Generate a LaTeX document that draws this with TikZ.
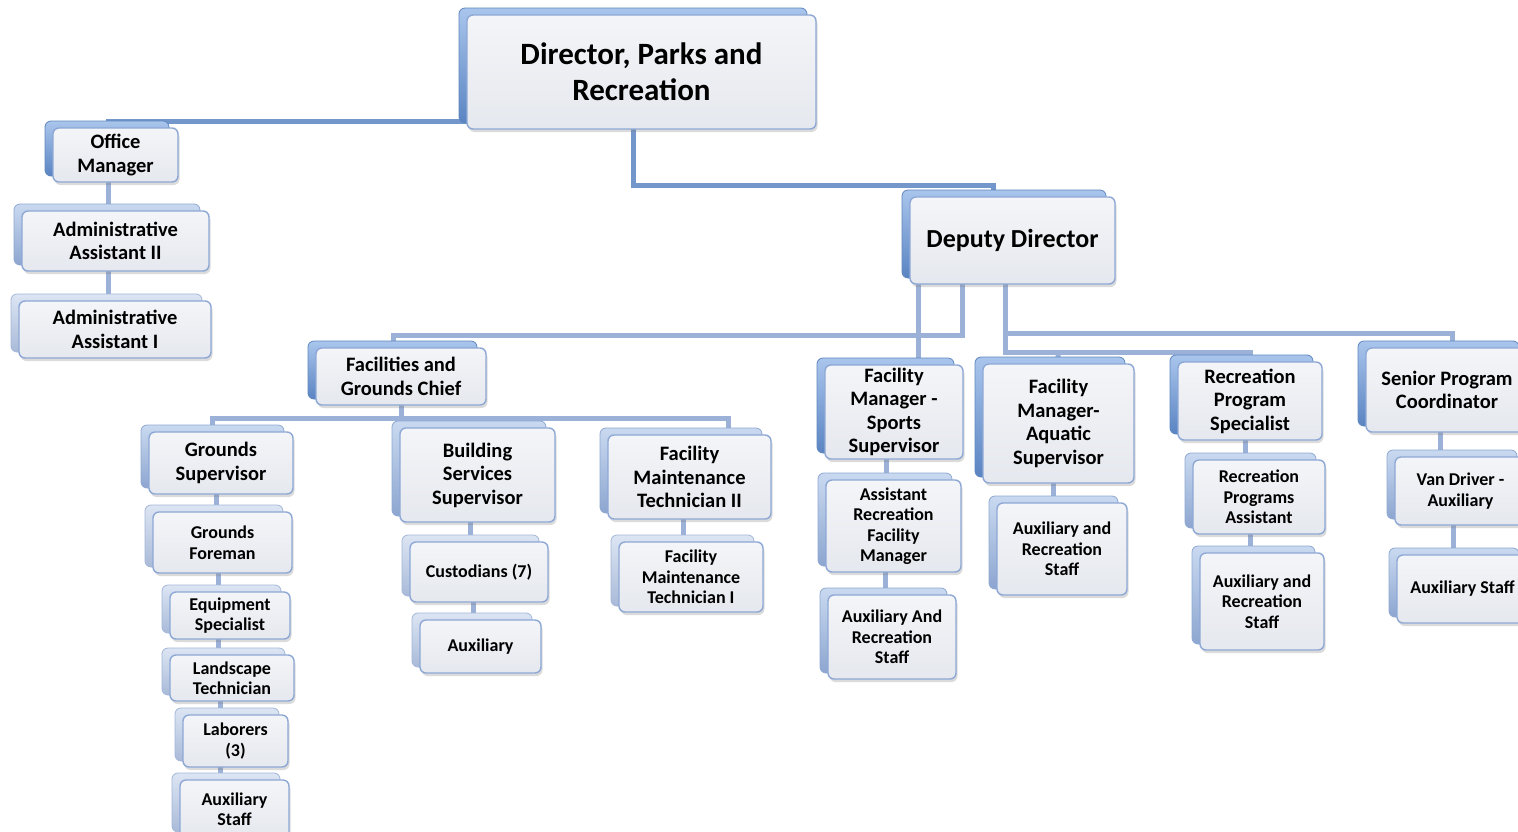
\documentclass[tikz,border=0pt]{standalone}
\usepackage{fontspec}
\setmainfont{Carlito}
\usetikzlibrary{shadows,backgrounds}
\pgfdeclarelayer{canvasbg}
\pgfsetlayers{canvasbg,background,main}
\definecolor{lnDark}{HTML}{7396CB}
\definecolor{lnLight}{HTML}{9BB1D8}
\definecolor{frontBorder}{HTML}{8EA8D6}
\definecolor{frontTop}{HTML}{F4F5F8}
\definecolor{frontBot}{HTML}{E5E8EE}
\definecolor{bdTop}{HTML}{A9C5EC}
\definecolor{bdBot}{HTML}{5A84C2}
\definecolor{bdBorder}{HTML}{5F87C0}
\definecolor{bmTop}{HTML}{C9D9F0}
\definecolor{bmBot}{HTML}{8DA6D0}
\definecolor{bmBorder}{HTML}{8FA8D2}
\definecolor{bpTop}{HTML}{DCE5F3}
\definecolor{bpBot}{HTML}{A9BAD8}
\definecolor{bpBorder}{HTML}{A3B7D9}
\tikzset{
  front/.style={draw=frontBorder, line width=1.4pt, rounded corners=6pt,
    top color=frontTop, bottom color=frontBot, inner sep=0pt, outer sep=0pt,
    align=center, text=black,
    drop shadow={opacity=0.28, shadow xshift=1.5pt, shadow yshift=-3pt}},
  backdeep/.style={draw=bdBorder, line width=0.8pt, rounded corners=6pt, top color=bdTop, bottom color=bdBot},
  backmid/.style={draw=bmBorder, line width=0.8pt, rounded corners=6pt, top color=bmTop, bottom color=bmBot},
  backpale/.style={draw=bpBorder, line width=0.8pt, rounded corners=6pt, top color=bpTop, bottom color=bpBot},
  fA/.style={font=\bfseries\fontsize{31}{36}\selectfont},
  fD/.style={font=\bfseries\fontsize{26}{31}\selectfont},
  fB/.style={font=\bfseries\fontsize{20.5}{23.5}\selectfont},
  fM/.style={font=\bfseries\fontsize{18}{20.5}\selectfont},
  lnD/.style={draw=lnDark, line width=5pt},
  lnL/.style={draw=lnLight, line width=5pt},
}
\newcommand\obox[8]{%
  \path[#1] ({#3-8},{#4-7}) rectangle ({#5-9},{#6-6});
  \node[front,#7,minimum width={(#5-#3)*1pt},minimum height={(#6-#4)*1pt}] (#2) at ({(#3+#5)/2},{(#4+#6)/2}) {#8};
}
\begin{document}
\begin{tikzpicture}[x=1pt,y=-1pt]
\useasboundingbox (0,0) rectangle (1518,831);
\begin{pgfonlayer}{canvasbg}
\fill[white] (0,0) rectangle (1518,831);
\end{pgfonlayer}
% boxes
\obox{backdeep}{dir}{467}{15}{816}{129}{fA}{Director, Parks and\\Recreation}
\obox{backdeep}{om}{53}{128}{178}{182}{fB}{Office\\Manager}
\obox{backmid}{aa2}{22}{211}{209}{271}{fB}{Administrative\\Assistant II}
\obox{backpale}{aa1}{19}{301}{211}{358}{fB}{Administrative\\Assistant I}
\obox{backdeep}{dep}{910}{197}{1115}{284}{fD}{Deputy Director}
\obox{backdeep}{fgc}{316}{348}{486}{405}{fB}{Facilities and\\Grounds Chief}
\obox{backmid}{gs}{149}{432}{293}{494}{fB}{Grounds\\Supervisor}
\obox{backpale}{gf}{153}{512}{292}{573}{fM}{Grounds\\Foreman}
\obox{backpale}{eq}{170}{592}{290}{639}{fM}{Equipment\\Specialist}
\obox{backpale}{lt}{170}{655}{294}{701}{fM}{Landscape\\Technician}
\obox{backpale}{lab}{183}{715}{288}{767}{fM}{Laborers\\(3)}
\obox{backpale}{gaux}{180}{780}{289}{838}{fM}{Auxiliary\\Staff}
\obox{backmid}{bss}{400}{428}{555}{522}{fB}{Building\\Services\\Supervisor}
\obox{backpale}{cus}{410}{542}{548}{602}{fM}{Custodians (7)}
\obox{backpale}{baux}{420}{620}{541}{673}{fM}{Auxiliary}
\obox{backmid}{fm2}{608}{435}{771}{519}{fB}{Facility\\Maintenance\\Technician II}
\obox{backpale}{fm1}{619}{542}{763}{612}{fM}{Facility\\Maintenance\\Technician I}
\obox{backdeep}{fms}{825}{365}{963}{459}{fB}{Facility\\Manager -\\Sports\\Supervisor}
\obox{backmid}{arfm}{826}{480}{961}{572}{fM}{Assistant\\Recreation\\Facility\\Manager}
\obox{backmid}{saux}{828}{595}{956}{679}{fM}{Auxiliary And\\Recreation\\Staff}
\obox{backdeep}{aqu}{983}{364}{1134}{483}{fB}{Facility\\Manager-\\Aquatic\\Supervisor}
\obox{backmid}{aaux}{997}{503}{1127}{595}{fM}{Auxiliary and\\Recreation\\Staff}
\obox{backdeep}{rps}{1178}{362}{1322}{440}{fB}{Recreation\\Program\\Specialist}
\obox{backmid}{rpa}{1193}{460}{1325}{534}{fM}{Recreation\\Programs\\Assistant}
\obox{backmid}{raux}{1200}{553}{1324}{650}{fM}{Auxiliary and\\Recreation\\Staff}
\obox{backdeep}{spc}{1366}{348}{1528}{432}{fB}{Senior Program\\Coordinator}
\obox{backmid}{van}{1395}{457}{1526}{525}{fM}{Van Driver -\\Auxiliary}
\obox{backmid}{vaux}{1397}{555}{1528}{623}{fM}{Auxiliary Staff}
% connectors
\begin{pgfonlayer}{background}
\draw[lnD] (467,121) -- (108,121) -- (108,0 |- om.north);
\draw[lnL] (108,0 |- om.south) -- (108,0 |- aa2.north);
\draw[lnL] (108,0 |- aa2.south) -- (108,0 |- aa1.north);
\draw[lnD] (633,0 |- dir.south) |- (993,185) -- (993,0 |- dep.north);
\draw[lnL] (918,0 |- dep.south) -- (918,0 |- fms.north);
\draw[lnL] (962,0 |- dep.south) |- (393,335) -- (393,0 |- fgc.north);
\draw[lnL] (1005,0 |- dep.south) |- (1250,352) -- (rps.north);
\draw[lnL] (1058,352) -- (aqu.north);
\draw[lnL] (1005,0 |- dep.south) |- (1452,333) -- (1452,0 |- spc.north);
\draw[lnL] (401,0 |- fgc.south) -- (401,418);
\draw[lnL] (212,0 |- gs.north) |- (728,418) -- (728,0 |- fm2.north);
\draw[lnL] (477,418) -- (bss.north);
\draw[lnL] (216,0 |- gs.south) -- (216,0 |- gf.north);
\draw[lnL] (218,0 |- gf.south) -- (218,0 |- eq.north);
\draw[lnL] (218,0 |- eq.south) -- (218,0 |- lt.north);
\draw[lnL] (220,0 |- lt.south) -- (220,0 |- lab.north);
\draw[lnL] (220,0 |- lab.south) -- (220,0 |- gaux.north);
\draw[lnL] (470,0 |- bss.south) -- (470,0 |- cus.north);
\draw[lnL] (473,0 |- cus.south) -- (473,0 |- baux.north);
\draw[lnL] (683,0 |- fm2.south) -- (683,0 |- fm1.north);
\draw[lnL] (886,0 |- fms.south) -- (886,0 |- arfm.north);
\draw[lnL] (885,0 |- arfm.south) -- (885,0 |- saux.north);
\draw[lnL] (1053,0 |- aqu.south) -- (1053,0 |- aaux.north);
\draw[lnL] (1245,0 |- rps.south) -- (1245,0 |- rpa.north);
\draw[lnL] (1250,0 |- rpa.south) -- (1250,0 |- raux.north);
\draw[lnL] (1440,0 |- spc.south) -- (1440,0 |- van.north);
\draw[lnL] (1453,0 |- van.south) -- (1453,0 |- vaux.north);
\end{pgfonlayer}
\end{tikzpicture}
\end{document}
